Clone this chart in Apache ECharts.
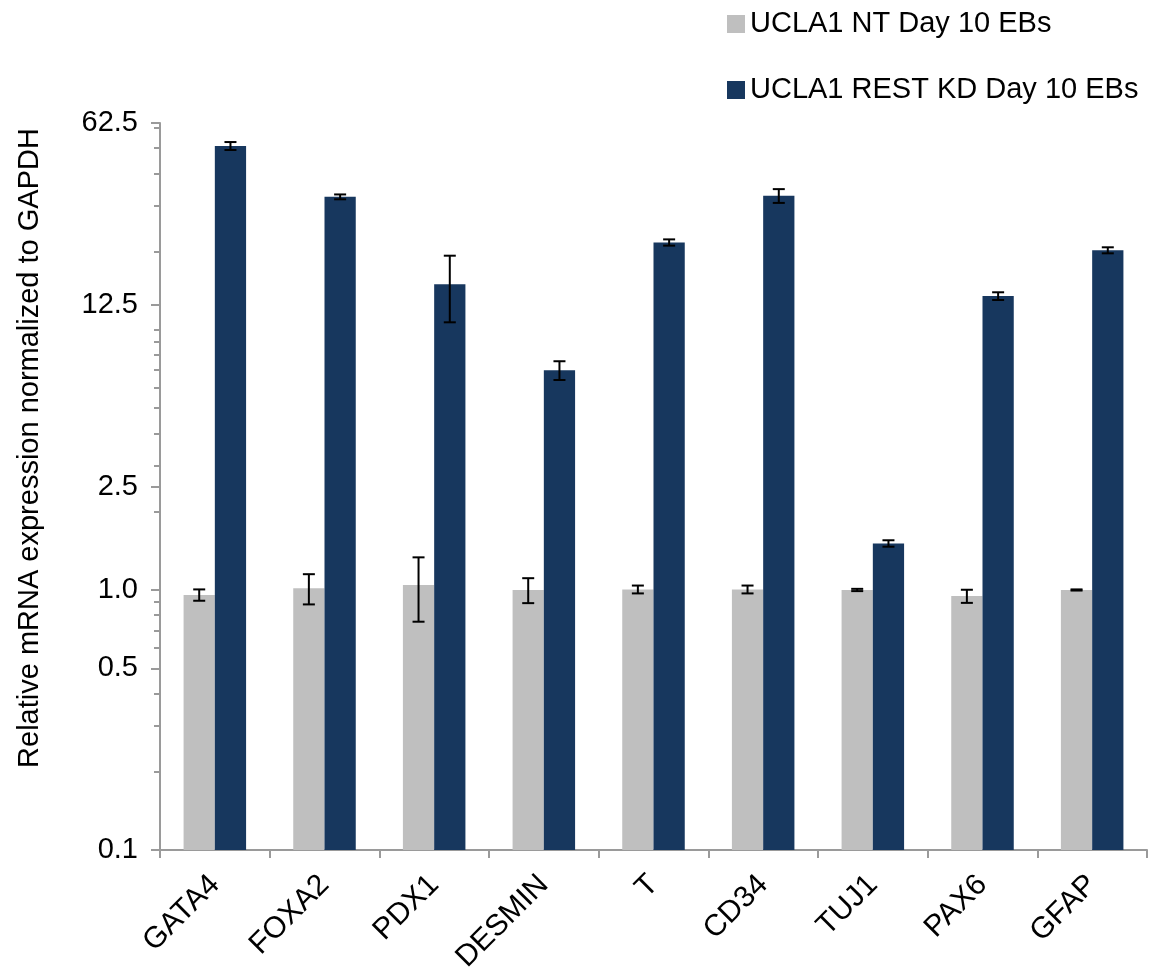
<!DOCTYPE html>
<html>
<head>
<meta charset="utf-8">
<script src="https://cdn.jsdelivr.net/npm/echarts@6/dist/echarts.min.js"></script>
<style>
html,body{margin:0;padding:0;background:#fff;}
#chart{width:1156px;height:968px;}
</style>
</head>
<body>
<div id="chart"></div>
<script>
const categories = ['GATA4', 'FOXA2', 'PDX1', 'DESMIN', 'T', 'CD34', 'TUJ1', 'PAX6', 'GFAP'];
const seriesNames = ['UCLA1 NT Day 10 EBs', 'UCLA1 REST KD Day 10 EBs'];
const ntValues = [0.957, 1.015, 1.045, 1.0, 1.005, 1.005, 1.0, 0.947, 1.0];
const ntErrors = [0.048, 0.135, 0.29, 0.11, 0.035, 0.035, 0.01, 0.055, 0.005];
const kdValues = [51.0, 32.5, 15.0, 7.0, 21.7, 32.8, 1.51, 13.5, 20.25];
const kdErrors = [1.8, 0.7, 4.3, 0.58, 0.6, 2.0, 0.043, 0.46, 0.54];
const yMin = 0.1;
const yMax = 62.5;
const yMajorTicks = [0.1, 0.5, 1, 2.5, 12.5, 62.5];
const yMinorTicks = [0.2, 0.3, 0.4, 0.6, 0.7, 0.8, 0.9, 2, 3, 4, 5, 6, 7, 8, 9, 10, 20, 30, 40, 50, 60];
const yAxisName = 'Relative mRNA expression normalized to GAPDH';

const FONT = '"Liberation Sans", Arial, sans-serif';
const GAP = 0.43;          // category gap as fraction of band
const COLORS = ['#BFBFBF', '#17375E'];
const AXIS_COLOR = '#9A9A9A';

function barSeries(name, vals, errs, sign, color) {
  return {
    name: name,
    type: 'custom',
    xAxisIndex: 0, yAxisIndex: 0,
    data: vals.map((v, i) => [i, v, errs[i]]),
    encode: { x: 0, y: 1 },
    itemStyle: { color: color },
    clip: false,
    renderItem: function (params, api) {
      const xi = api.value(0), v = api.value(1), e = api.value(2);
      const band = api.size([1, 0])[0];
      const bw = band * (1 - GAP) / 2;
      const topPt = api.coord([xi, v]);
      const basePt = api.coord([xi, yMin]);
      const cx = topPt[0] + sign * bw / 2;
      const eTop = api.coord([xi, v + e]);
      const eBot = api.coord([xi, v - e]);
      const cap = 6;
      const ls = { stroke: '#000', lineWidth: 2, fill: null };
      return {
        type: 'group',
        children: [
          { type: 'rect', shape: { x: cx - bw / 2, y: topPt[1], width: bw, height: basePt[1] - topPt[1] },
            style: { fill: color } },
          { type: 'line', z2: 10, shape: { x1: cx, y1: eTop[1], x2: cx, y2: eBot[1] }, style: ls },
          { type: 'line', z2: 10, shape: { x1: cx - cap, y1: eTop[1], x2: cx + cap, y2: eTop[1] }, style: ls },
          { type: 'line', z2: 10, shape: { x1: cx - cap, y1: eBot[1], x2: cx + cap, y2: eBot[1] }, style: ls }
        ]
      };
    }
  };
}

const chart = echarts.init(document.getElementById('chart'), null, { renderer: 'canvas' });
chart.setOption({
  backgroundColor: '#ffffff',
  animation: false,
  textStyle: { fontFamily: FONT },
  legend: {
    orient: 'vertical',
    left: 722,
    top: 4,
    itemWidth: 18,
    itemHeight: 18,
    itemGap: 36,
    icon: 'rect',
    textStyle: { fontFamily: FONT, fontSize: 29, color: '#000', lineHeight: 30 },
    data: seriesNames.map((n, i) => ({ name: n, itemStyle: { color: COLORS[i] } }))
  },
  grid: { left: 160, right: 9, top: 123, bottom: 118, containLabel: false, outerBoundsMode: 'none' },
  xAxis: {
    type: 'category',
    data: categories,
    axisLine: { lineStyle: { color: AXIS_COLOR, width: 2 } },
    axisTick: { show: true, length: 8, lineStyle: { color: AXIS_COLOR, width: 2 } },
    axisLabel: { rotate: 45, margin: 30, color: '#000', fontSize: 30, fontFamily: FONT, interval: 0 },
    splitLine: { show: false }
  },
  yAxis: [{
    type: 'log',
    logBase: 10,
    min: yMin,
    max: yMax,
    position: 'left',
    name: yAxisName,
    nameLocation: 'middle',
    nameGap: 116,
    nameTextStyle: { fontFamily: FONT, fontSize: 29, color: '#000', padding: [0, 0, 0, 77] },
    axisLine: { show: true, lineStyle: { color: AXIS_COLOR, width: 2 } },
    axisTick: { show: true, length: 9, customValues: yMajorTicks, lineStyle: { color: AXIS_COLOR, width: 2 } },
    axisLabel: {
      customValues: yMajorTicks,
      margin: 22,
      color: '#000', fontSize: 29, fontFamily: FONT,
      formatter: function (v) { return Number(v).toFixed(1); }
    },
    splitLine: { show: false }
  }, {
    type: 'log',
    logBase: 10,
    min: yMin,
    max: yMax,
    position: 'left',
    axisLine: { show: false },
    axisTick: { show: true, length: 6, customValues: yMinorTicks, lineStyle: { color: AXIS_COLOR, width: 2 } },
    axisLabel: { show: false },
    splitLine: { show: false }
  }],
  series: [
    barSeries(seriesNames[0], ntValues, ntErrors, -1, COLORS[0]),
    barSeries(seriesNames[1], kdValues, kdErrors, 1, COLORS[1])
  ]
});
</script>
</body>
</html>
